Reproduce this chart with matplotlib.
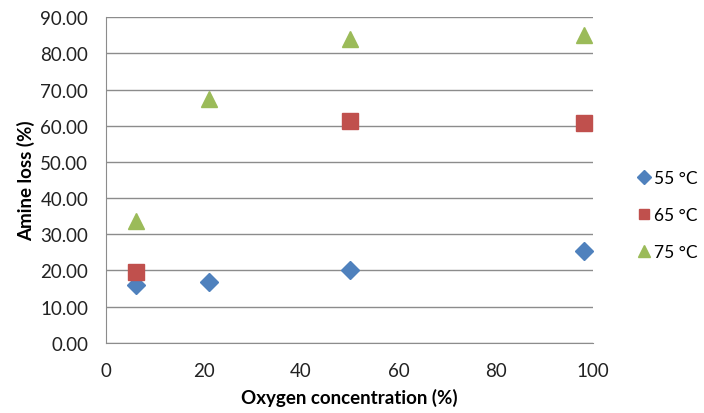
import matplotlib
matplotlib.use("Agg")
import matplotlib.pyplot as plt

oxygen = [6, 21, 50, 98]
oxygen_65 = [6, 50, 98]
oxygen_75 = [6, 21, 50, 98]
loss_55 = [16.0, 16.9, 20.2, 25.3]
loss_65 = [19.6, 61.2, 60.9]
loss_75 = [33.6, 67.4, 84.1, 85.0]
labels = ["55 °C", "65 °C", "75 °C"]
yticks = [0, 10, 20, 30, 40, 50, 60, 70, 80, 90]
xticks = [0, 20, 40, 60, 80, 100]

plt.rcParams['font.family'] = ['Lato', 'DejaVu Sans']

fig = plt.figure(figsize=(7.04, 4.14), dpi=100)
ax = fig.add_axes([106.3/704, 1 - 343.7/414, (593.3-106.3)/704, (343.7-18.3)/414])

ax.plot(oxygen, loss_55, linestyle='none', marker='D', markersize=9.5, color='#4F81BD', label=labels[0], clip_on=False, zorder=3)
ax.plot(oxygen_65, loss_65, linestyle='none', marker='s', markersize=11, color='#C0504D', label=labels[1], clip_on=False, zorder=3)
ax.plot(oxygen_75, loss_75, linestyle='none', marker='^', markersize=12, color='#9BBB59', label=labels[2], clip_on=False, zorder=3)

ax.set_xlim(0, 100)
ax.set_ylim(0, 90)
ax.set_xticks(xticks)
ax.set_yticks(yticks)
ax.set_yticklabels([f"{v:.2f}" for v in yticks])
ax.grid(axis='y', color='#8C8C8C', linewidth=1)
ax.set_axisbelow(True)
for s in ['top', 'right']:
    ax.spines[s].set_visible(False)
for s in ['left', 'bottom']:
    ax.spines[s].set_color('#8C8C8C')
ax.tick_params(axis='both', length=0, labelsize=13.5, colors='#222222')
ax.tick_params(axis='y', pad=13)
ax.tick_params(axis='x', pad=14)
ax.set_xlabel("Oxygen concentration (%)", fontsize=13.5, fontweight='bold', labelpad=6)
ax.set_ylabel("Amine loss (%)", fontsize=13.5, fontweight='bold', labelpad=4)

leg = ax.legend(loc='center left', bbox_to_anchor=(1.055, 0.392), frameon=False, fontsize=12.5,
                handletextpad=0.05, labelspacing=1.2, handlelength=1.0, markerscale=0.7)

fig.savefig("out.png", dpi=100)
